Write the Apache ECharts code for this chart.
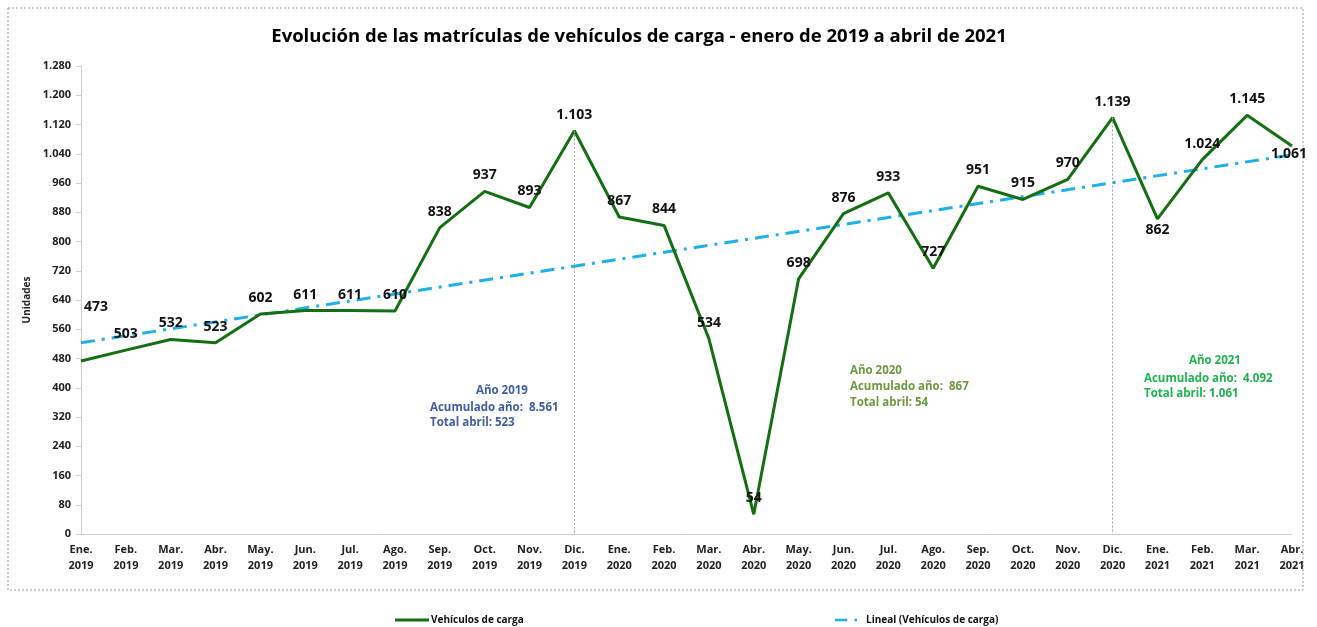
<!DOCTYPE html>
<html>
<head>
<meta charset="utf-8">
<script src="https://cdn.jsdelivr.net/npm/echarts@6/dist/echarts.min.js"></script>
<style>
  html, body { margin: 0; padding: 0; background: #fff; }
  #chart { width: 1317px; height: 627px; }
</style>
</head>
<body>
<div id="chart"></div>
<script>
// meses (eje x)
const categorias = [
  'Ene.\n2019', 'Feb.\n2019', 'Mar.\n2019', 'Abr.\n2019', 'May.\n2019', 'Jun.\n2019', 'Jul.\n2019',
  'Ago.\n2019', 'Sep.\n2019', 'Oct.\n2019', 'Nov.\n2019', 'Dic.\n2019',
  'Ene.\n2020', 'Feb.\n2020', 'Mar.\n2020', 'Abr.\n2020', 'May.\n2020', 'Jun.\n2020', 'Jul.\n2020',
  'Ago.\n2020', 'Sep.\n2020', 'Oct.\n2020', 'Nov.\n2020', 'Dic.\n2020',
  'Ene.\n2021', 'Feb.\n2021', 'Mar.\n2021', 'Abr.\n2021'
];
// matriculas mensuales
const vehiculos = [
  473, 503, 532, 523, 602, 611, 611, 610, 838, 937, 893, 1103,
  867, 844, 534, 54, 698, 876, 933, 727, 951, 915, 970, 1139,
  862, 1024, 1145, 1061
];
// linea de tendencia: extremos
const tendenciaInicio = 523;
const tendenciaFin = 1037;
// eje y
const yMin = 0, yMax = 1280, yPaso = 80;
// marcas verticales en diciembre
const marcasDic = [11, 23];

const fmt = v => String(v).replace(/\B(?=(\d{3})+(?!\d))/g, '.');

const tendencia = vehiculos.map((v, i) => i === 0 ? tendenciaInicio : (i === vehiculos.length - 1 ? tendenciaFin : null));

const datosLinea = vehiculos.map((v, i) => {
  let d = { value: v };
  if (i === 0) d.label = { position: [15, -54], align: 'center', verticalAlign: 'middle' };
  if (i === 24) d.label = { position: 'bottom', distance: 4 };
  if (i === 27) d.label = { position: [-3, 8], align: 'center', verticalAlign: 'middle' };
  return d;
});

const chart = echarts.init(document.getElementById('chart'));
const font = 'Open Sans';
const option = {
  animation: false,
  textStyle: { fontFamily: font },
  title: {
    text: 'Evolución de las matrículas de vehículos de carga - enero de 2019 a abril de 2021',
    left: 634, top: 22, textAlign: 'center',
    textStyle: { fontSize: 18.5, fontWeight: 'bold', color: '#000', fontFamily: font }
  },
  legend: [
    {
      data: [{ name: 'Vehículos de carga', icon: 'rect' }], left: 390, top: 610,
      itemWidth: 34, itemHeight: 3, itemGap: 4,
      textStyle: { fontSize: 10, fontWeight: 'bold', color: '#111', padding: [0, 0, 0, -3] }
    },
    {
      data: [{ name: 'Lineal (Vehículos de carga)', icon: 'path://M0,0h14v3h-14z M22,0h3v3h-3z' }], left: 830, top: 610,
      itemWidth: 22, itemHeight: 3,
      textStyle: { fontSize: 10, fontWeight: 'bold', color: '#111', padding: [0, 0, 0, 4] }
    }
  ],
  grid: { left: 81, right: 25, top: 66, bottom: 93 },
  graphic: [
    {
      type: 'rect', shape: { x: 8, y: 8, width: 1295, height: 582 },
      style: { fill: 'none', stroke: '#9a9a9a', lineWidth: 1, lineDash: [2, 2] }, z: -1
    },
    { type: 'text', left: 476, top: 385, style: { text: 'Año 2019', font: 'bold 11.5px Open Sans', fill: '#3f5ea0' } },
    { type: 'text', left: 430, top: 400, style: { text: 'Acumulado año:  8.561\nTotal abril: 523', font: 'bold 11.5px Open Sans', fill: '#3f5ea0', lineHeight: 15 } },
    { type: 'text', left: 850, top: 363, style: { text: 'Año 2020\nAcumulado año:  867\nTotal abril: 54', font: 'bold 11.5px Open Sans', fill: '#6b9a3e', lineHeight: 16 } },
    { type: 'text', left: 1189, top: 355, style: { text: 'Año 2021', font: 'bold 11.5px Open Sans', fill: '#1fb34f' } },
    { type: 'text', left: 1144, top: 371, style: { text: 'Acumulado año:  4.092\nTotal abril: 1.061', font: 'bold 11.5px Open Sans', fill: '#1fb34f', lineHeight: 15 } }
  ],
  xAxis: {
    type: 'category', data: categorias, boundaryGap: false,
    axisLine: { lineStyle: { color: '#d0d0d0', width: 1 } },
    axisTick: { show: false },
    axisLabel: { interval: 0, fontSize: 11, fontWeight: 'bold', color: '#222', lineHeight: 16, margin: 8 }
  },
  yAxis: {
    type: 'value', min: yMin, max: yMax, interval: yPaso,
    name: 'Unidades', nameLocation: 'middle', nameRotate: 90, nameGap: 45,
    nameTextStyle: { fontSize: 10, fontWeight: 'bold', color: '#222' },
    axisLine: { show: true, lineStyle: { color: '#d0d0d0' } },
    axisTick: { show: true, length: 5, lineStyle: { color: '#d0d0d0' } },
    axisLabel: { fontSize: 11, fontWeight: 'bold', color: '#222', margin: 10, formatter: fmt },
    splitLine: { show: false }
  },
  series: [
    {
      name: 'Lineal (Vehículos de carga)', type: 'line', data: tendencia,
      connectNulls: true, symbol: 'none', z: 2,
      itemStyle: { color: '#1eb0ea' },
      lineStyle: { color: '#1eb0ea', width: 3, type: [14, 7, 3, 7] }
    },
    {
      name: 'Vehículos de carga', type: 'line', data: datosLinea,
      symbol: 'circle', symbolSize: 0, showSymbol: true, z: 3,
      itemStyle: { color: '#146f12' },
      lineStyle: { color: '#146f12', width: 3 },
      label: {
        show: true, position: 'top', distance: 9,
        fontSize: 14, fontWeight: 'bold', color: '#111', fontFamily: font,
        formatter: p => fmt(p.value)
      },
      markLine: {
        silent: true, symbol: 'none', label: { show: false },
        lineStyle: { color: '#a8a8a8', type: [2, 2], width: 1 },
        data: marcasDic.map(i => [{ coord: [i, vehiculos[i]] }, { coord: [i, 0] }])
      }
    }
  ]
};
chart.setOption(option);
</script>
</body>
</html>
